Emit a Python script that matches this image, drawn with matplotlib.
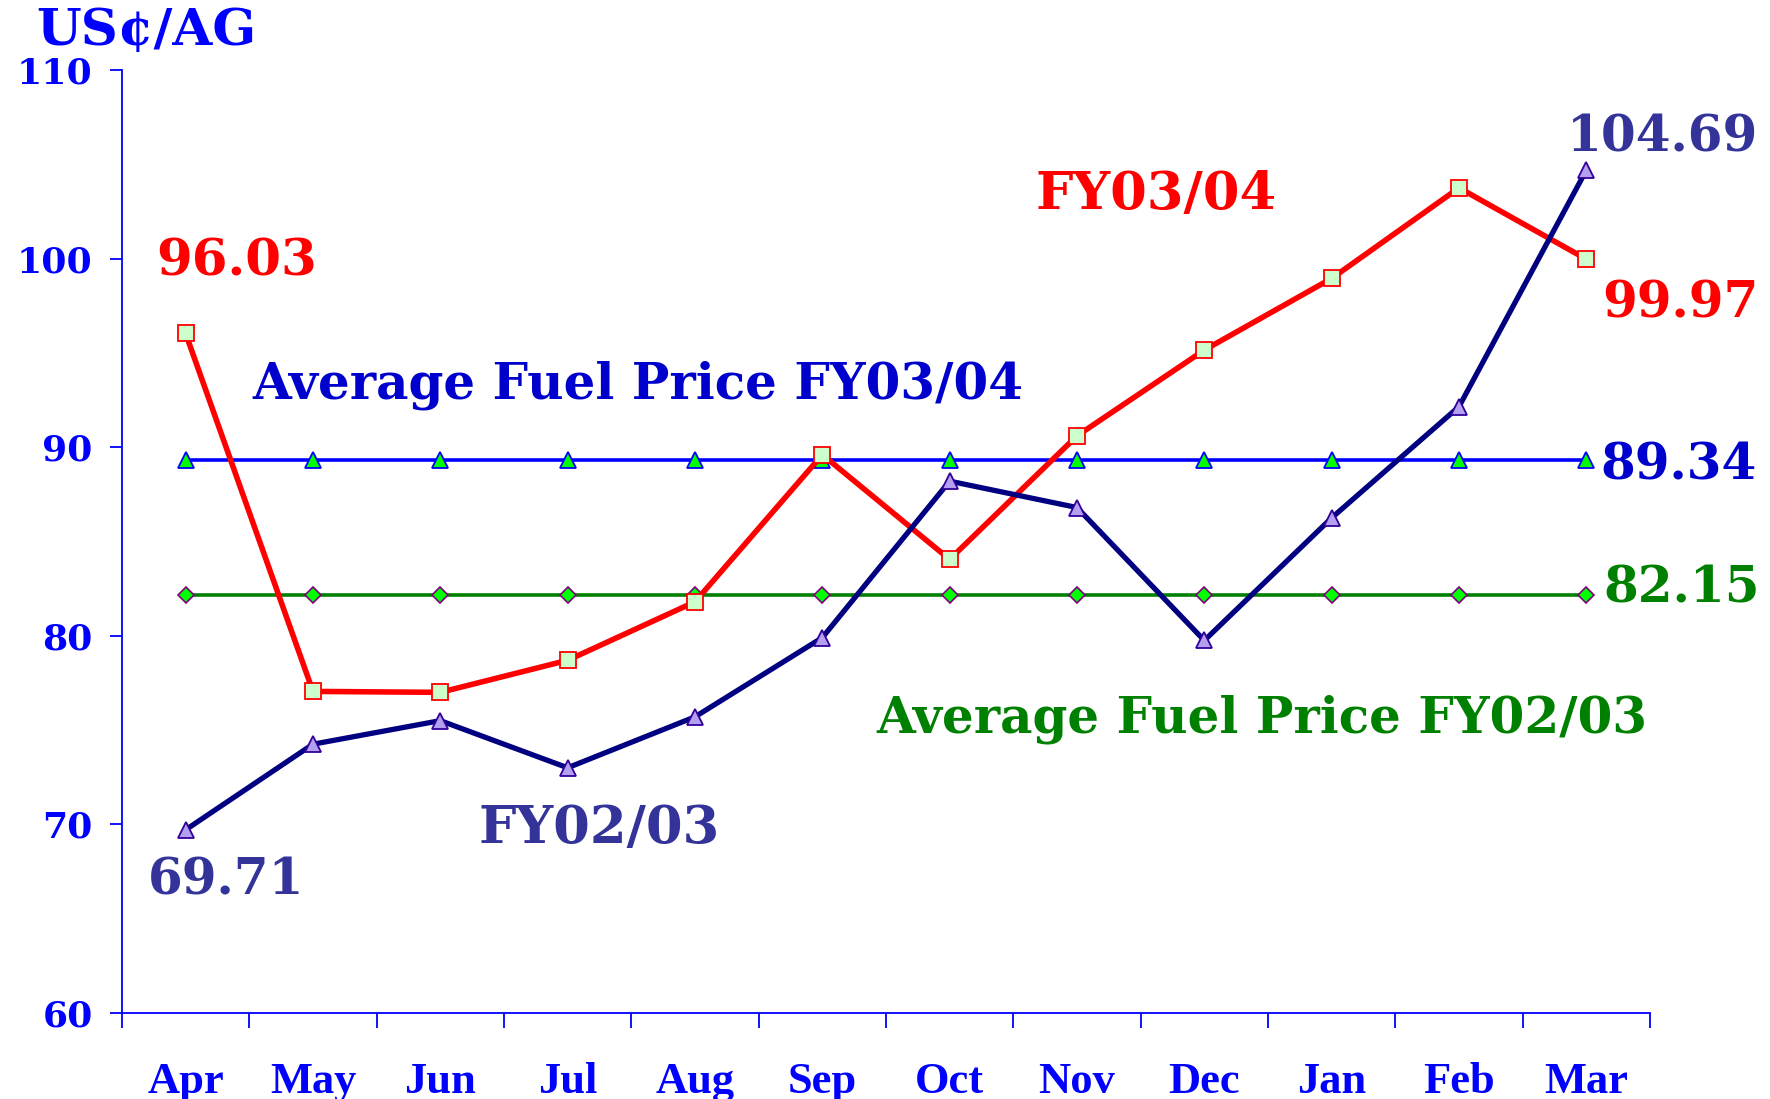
import matplotlib.pyplot as plt
import numpy as np

months = ["Apr", "May", "Jun", "Jul", "Aug", "Sep",
          "Oct", "Nov", "Dec", "Jan", "Feb", "Mar"]
fy0304 = [96.03, 77.05, 77.0, 78.7, 81.8, 89.6,
          84.05, 90.6, 95.15, 98.95, 103.75, 99.97]
fy0203 = [69.71, 74.25, 75.5, 73.0, 75.7, 79.9,
          88.2, 86.8, 79.75, 86.25, 92.15, 104.69]
avg_0304 = 89.34
avg_0203 = 82.15

FONT = "DejaVu Serif"


def plotting():
    x = np.arange(len(months))
    fig = plt.figure(figsize=(17.7, 10.99), dpi=100)
    ax = fig.add_axes([0.0689, 0.0783, 0.8633, 0.858])

    # average lines first so the monthly series sit on top
    ax.plot(x, [avg_0203] * len(x), color="#008000", lw=2.6,
            marker="D", ms=8, mfc="#00FF00", mec="#800080", mew=1.2)
    ax.plot(x, [avg_0304] * len(x), color="#0000FF", lw=2.6,
            marker="^", ms=11, mfc="#00FF00", mec="#0000FF", mew=1.3)
    ax.plot(x, fy0304, color="#FF0000", lw=4.0,
            marker="s", ms=11, mfc="#CCFFCC", mec="#FF0000", mew=1.3)
    ax.plot(x, fy0203, color="#000080", lw=3.8,
            marker="^", ms=11, mfc="#B3A0F0", mec="#330099", mew=1.3)

    ax.set_xlim(-0.5, len(months) - 0.5)
    ax.set_ylim(60, 110)
    ax.set_yticks(range(60, 111, 10))
    ax.set_xticks(np.arange(-0.5, len(months)), minor=False)
    ax.set_xticklabels([])
    ax.set_xticks(x, minor=True)
    ax.set_xticklabels(months, minor=True, fontfamily="Liberation Serif",
                       fontweight="bold", fontsize=32, color="#0000FF")
    ax.tick_params(axis="x", which="major", length=11, width=1.3,
                   color="#0000FF", direction="out")
    ax.tick_params(axis="x", which="minor", length=0, pad=35)
    ax.tick_params(axis="y", length=9, width=1.3, color="#0000FF",
                   pad=12, labelcolor="#0000FF")
    for lab in ax.get_yticklabels():
        lab.set_fontfamily(FONT)
        lab.set_fontweight("bold")
        lab.set_fontsize(26)

    for side in ["top", "right"]:
        ax.spines[side].set_visible(False)
    for side in ["left", "bottom"]:
        ax.spines[side].set_color("#0000FF")
        ax.spines[side].set_linewidth(1.3)

    def label(xv, yv, s, color, size=36):
        ax.text(xv, yv, s, color=color, fontsize=size, fontfamily=FONT,
                fontweight="bold", ha="center", va="center", clip_on=False)

    label(0.40, 99.8, "96.03", "#FF0000", 37)
    label(7.62, 103.4, "FY03/04", "#FF0000", 38)
    label(3.55, 93.3, "Average Fuel Price FY03/04", "#0000CC")
    label(8.45, 75.6, "Average Fuel Price FY02/03", "#008000")
    label(3.25, 69.8, "FY02/03", "#333399", 38)
    label(0.32, 67.0, "69.71", "#333399")
    label(11.6, 106.4, "104.69", "#333399")
    label(11.74, 97.6, "99.97", "#FF0000")
    label(11.72, 89.0, "89.34", "#0000CC")
    label(11.75, 82.5, "82.15", "#008000")

    fig.text(36 / 1770, 1 - 31 / 1099, "US¢/AG", color="#0000FF",
             fontsize=37, fontfamily=FONT, fontweight="bold",
             ha="left", va="center")

    fig.savefig("out.png", dpi=100)
    plt.close(fig)


if __name__ == "__main__":
    plotting()
